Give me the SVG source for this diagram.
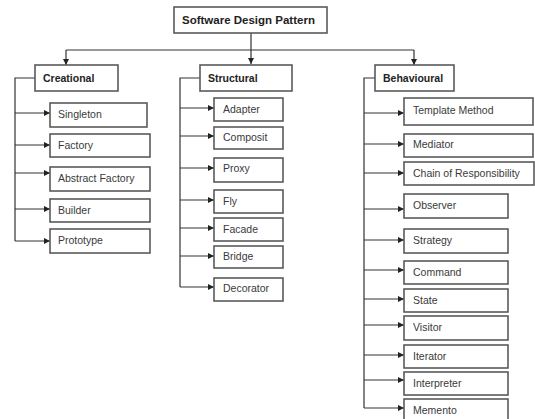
<svg xmlns="http://www.w3.org/2000/svg" width="535" height="419" viewBox="0 0 535 419">
  <style>
    .box { fill: #ffffff; stroke: #5a5a5a; stroke-width: 1.6; }
    .lbl { font-family: "Liberation Sans", Arial, sans-serif; font-size: 10.5px; fill: #3a3a3a; }
    .hd { font-family: "Liberation Sans", Arial, sans-serif; font-size: 10.5px; font-weight: bold; fill: #222222; }
    .ttl { font-family: "Liberation Sans", Arial, sans-serif; font-size: 11.5px; font-weight: bold; fill: #222222; }
    .ln { fill: none; stroke: #333333; stroke-width: 1.2; }
  </style>
  <defs>
    <marker id="arr" markerWidth="6" markerHeight="6" refX="6" refY="3" orient="auto" markerUnits="userSpaceOnUse">
      <path d="M0,0 L6,3 L0,6 z" fill="#222222"/>
    </marker>
  </defs>
  <rect width="535" height="419" fill="#ffffff"/>

  <g id="connectors">
    <!-- root to categories -->
    <path class="ln" d="M251,33 V64" marker-end="url(#arr)"/>
    <path class="ln" d="M66,50 H414"/>
    <path class="ln" d="M66,50 V65" marker-end="url(#arr)"/>
    <path class="ln" d="M414,50 V65" marker-end="url(#arr)"/>
    <!-- creational spine -->
    <path class="ln" d="M35,78 H15 V241"/>
    <path class="ln" d="M15,113 H50" marker-end="url(#arr)"/>
    <path class="ln" d="M15,145 H50" marker-end="url(#arr)"/>
    <path class="ln" d="M15,173 H50" marker-end="url(#arr)"/>
    <path class="ln" d="M15,209 H50" marker-end="url(#arr)"/>
    <path class="ln" d="M15,241 H50" marker-end="url(#arr)"/>
    <!-- structural spine -->
    <path class="ln" d="M200,78 H180 V287"/>
    <path class="ln" d="M180,108 H214" marker-end="url(#arr)"/>
    <path class="ln" d="M180,136 H214" marker-end="url(#arr)"/>
    <path class="ln" d="M180,168 H214" marker-end="url(#arr)"/>
    <path class="ln" d="M180,200 H214" marker-end="url(#arr)"/>
    <path class="ln" d="M180,228 H214" marker-end="url(#arr)"/>
    <path class="ln" d="M180,256 H214" marker-end="url(#arr)"/>
    <path class="ln" d="M180,287 H214" marker-end="url(#arr)"/>
    <!-- behavioural spine -->
    <path class="ln" d="M375,78 H364 V408"/>
    <path class="ln" d="M364,113 H404" marker-end="url(#arr)"/>
    <path class="ln" d="M364,144 H404" marker-end="url(#arr)"/>
    <path class="ln" d="M364,173 H404" marker-end="url(#arr)"/>
    <path class="ln" d="M364,209 H404" marker-end="url(#arr)"/>
    <path class="ln" d="M364,240 H404" marker-end="url(#arr)"/>
    <path class="ln" d="M364,270 H404" marker-end="url(#arr)"/>
    <path class="ln" d="M364,299 H404" marker-end="url(#arr)"/>
    <path class="ln" d="M364,325 H404" marker-end="url(#arr)"/>
    <path class="ln" d="M364,355 H404" marker-end="url(#arr)"/>
    <path class="ln" d="M364,380 H404" marker-end="url(#arr)"/>
    <path class="ln" d="M364,408 H404" marker-end="url(#arr)"/>
  </g>

  <g id="root"><rect class="box" x="174" y="7" width="153" height="26"/><text class="ttl" x="182" y="24">Software Design Pattern</text></g>

  <g id="creational"><rect class="box" x="35" y="65" width="83" height="26"/><text class="hd" x="43" y="82">Creational</text></g>
  <g id="singleton"><rect class="box" x="50" y="103" width="97" height="24"/><text class="lbl" x="58" y="118">Singleton</text></g>
  <g id="factory"><rect class="box" x="50" y="134" width="100" height="23"/><text class="lbl" x="58" y="149">Factory</text></g>
  <g id="abstract-factory"><rect class="box" x="50" y="167" width="100" height="24"/><text class="lbl" x="58" y="182">Abstract Factory</text></g>
  <g id="builder"><rect class="box" x="50" y="199" width="100" height="23"/><text class="lbl" x="58" y="214">Builder</text></g>
  <g id="prototype"><rect class="box" x="50" y="229" width="100" height="24"/><text class="lbl" x="58" y="244">Prototype</text></g>

  <g id="structural"><rect class="box" x="200" y="65" width="92" height="26"/><text class="hd" x="208" y="82">Structural</text></g>
  <g id="adapter"><rect class="box" x="214" y="98" width="69" height="23"/><text class="lbl" x="223" y="113">Adapter</text></g>
  <g id="composit"><rect class="box" x="214" y="127" width="69" height="22"/><text class="lbl" x="223" y="141">Composit</text></g>
  <g id="proxy"><rect class="box" x="214" y="158" width="69" height="24"/><text class="lbl" x="223" y="172">Proxy</text></g>
  <g id="fly"><rect class="box" x="214" y="190" width="69" height="23"/><text class="lbl" x="223" y="205">Fly</text></g>
  <g id="facade"><rect class="box" x="214" y="218" width="69" height="23"/><text class="lbl" x="223" y="233">Facade</text></g>
  <g id="bridge"><rect class="box" x="214" y="246" width="69" height="22"/><text class="lbl" x="223" y="260">Bridge</text></g>
  <g id="decorator"><rect class="box" x="214" y="278" width="69" height="23"/><text class="lbl" x="223" y="292">Decorator</text></g>

  <g id="behavioural"><rect class="box" x="375" y="65" width="79" height="26"/><text class="hd" x="383" y="82">Behavioural</text></g>
  <g id="template-method"><rect class="box" x="404" y="98" width="129" height="27"/><text class="lbl" x="413" y="114">Template Method</text></g>
  <g id="mediator"><rect class="box" x="404" y="134" width="129" height="23"/><text class="lbl" x="413" y="148">Mediator</text></g>
  <g id="chain"><rect class="box" x="404" y="162" width="130" height="23"/><text class="lbl" x="413" y="177">Chain of Responsibility</text></g>
  <g id="observer"><rect class="box" x="404" y="194" width="104" height="24"/><text class="lbl" x="413" y="209">Observer</text></g>
  <g id="strategy"><rect class="box" x="404" y="229" width="104" height="24"/><text class="lbl" x="413" y="244">Strategy</text></g>
  <g id="command"><rect class="box" x="404" y="261" width="104" height="23"/><text class="lbl" x="413" y="276">Command</text></g>
  <g id="state"><rect class="box" x="404" y="289" width="104" height="23"/><text class="lbl" x="413" y="304">State</text></g>
  <g id="visitor"><rect class="box" x="404" y="316" width="104" height="24"/><text class="lbl" x="413" y="331">Visitor</text></g>
  <g id="iterator"><rect class="box" x="404" y="345" width="104" height="23"/><text class="lbl" x="413" y="360">Iterator</text></g>
  <g id="interpreter"><rect class="box" x="404" y="372" width="104" height="23"/><text class="lbl" x="413" y="387">Interpreter</text></g>
  <g id="memento"><rect class="box" x="404" y="399" width="104" height="24"/><text class="lbl" x="413" y="414">Memento</text></g>
</svg>
